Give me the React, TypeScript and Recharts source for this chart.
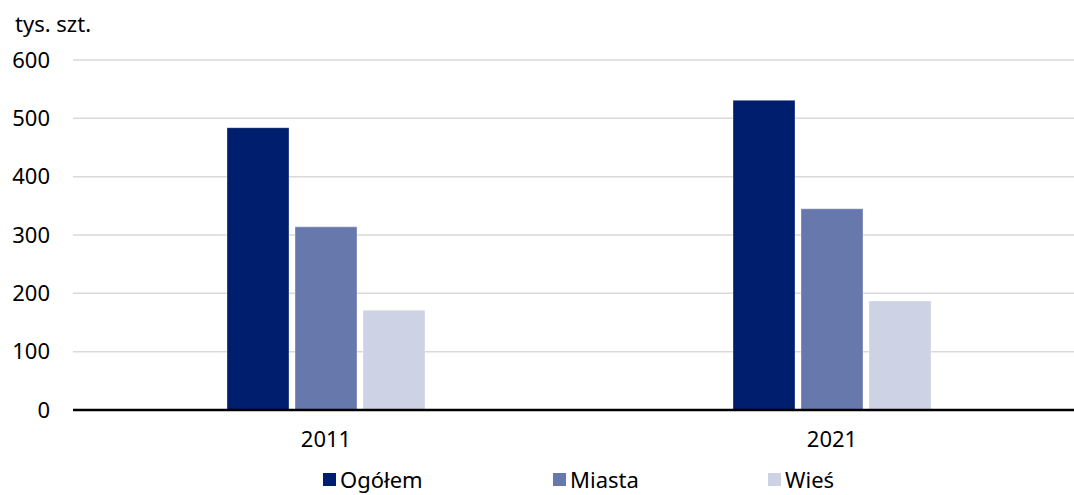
import { BarChart, Bar, XAxis, YAxis, CartesianGrid, Legend } from "recharts"

const years = ["2011", "2021"]
const ogolem = [484, 531]
const miasta = [314, 345]
const wies = [171, 187]
const yTicks = [0, 100, 200, 300, 400, 500, 600]

const series = [
  { key: "ogolem", name: "Ogółem", color: "#001E6E", values: ogolem },
  { key: "miasta", name: "Miasta", color: "#6778AC", values: miasta },
  { key: "wies", name: "Wieś", color: "#CDD2E5", values: wies },
]

const chartData = years.map((year, i) => ({
  year,
  ogolem: ogolem[i],
  miasta: miasta[i],
  wies: wies[i],
}))

const font = "'Noto Sans', sans-serif"

function LegendBox() {
  const offsets = [323, 553, 768]
  return (
    <div style={{ position: "relative", height: 30, fontFamily: font, fontSize: 22, color: "#000" }}>
      {series.map((s, i) => (
        <div
          key={s.key}
          style={{ position: "absolute", left: offsets[i], top: 0, lineHeight: "28px", display: "flex", alignItems: "center", whiteSpace: "nowrap" }}
        >
          <span style={{ width: 13, height: 13, background: s.color, display: "inline-block", marginRight: 4 }} />
          <span>{s.name}</span>
        </div>
      ))}
    </div>
  )
}

export default function App() {
  return (
    <div style={{ position: "absolute", left: 0, top: 0, width: 1074, height: 495, overflow: "hidden", background: "#fff" }}>
      <div style={{ position: "absolute", left: 15, top: 8, fontFamily: font, fontSize: 22, color: "#000" }}>tys. szt.</div>
      <BarChart
        width={1085}
        height={495}
        data={chartData}
        margin={{ top: 60, right: 0, bottom: 0, left: 0 }}
        barSize={62}
        barGap={6}
      >
        <CartesianGrid vertical={false} stroke="#D9D9D9" strokeWidth={1.5} />
        <XAxis
          dataKey="year"
          height={55}
          tickLine={false}
          axisLine={{ stroke: "#000", strokeWidth: 2.5 }}
          tickSize={6}
          tickMargin={15}
          tick={{ fill: "#000", fontSize: 22, fontFamily: font }}
        />
        <YAxis
          width={73}
          domain={[0, 600]}
          ticks={yTicks}
          tickLine={false}
          axisLine={false}
          tickSize={6}
          tickMargin={17}
          tick={{ fill: "#000", fontSize: 22, fontFamily: font }}
        />
        <Legend verticalAlign="bottom" content={() => <LegendBox />} wrapperStyle={{ left: 0, width: 1085 }} />
        {series.map((s) => (
          <Bar key={s.key} dataKey={s.key} name={s.name} fill={s.color} stroke="rgba(255,255,255,0.35)" strokeWidth={1} isAnimationActive={false} />
        ))}
      </BarChart>
    </div>
  )
}
